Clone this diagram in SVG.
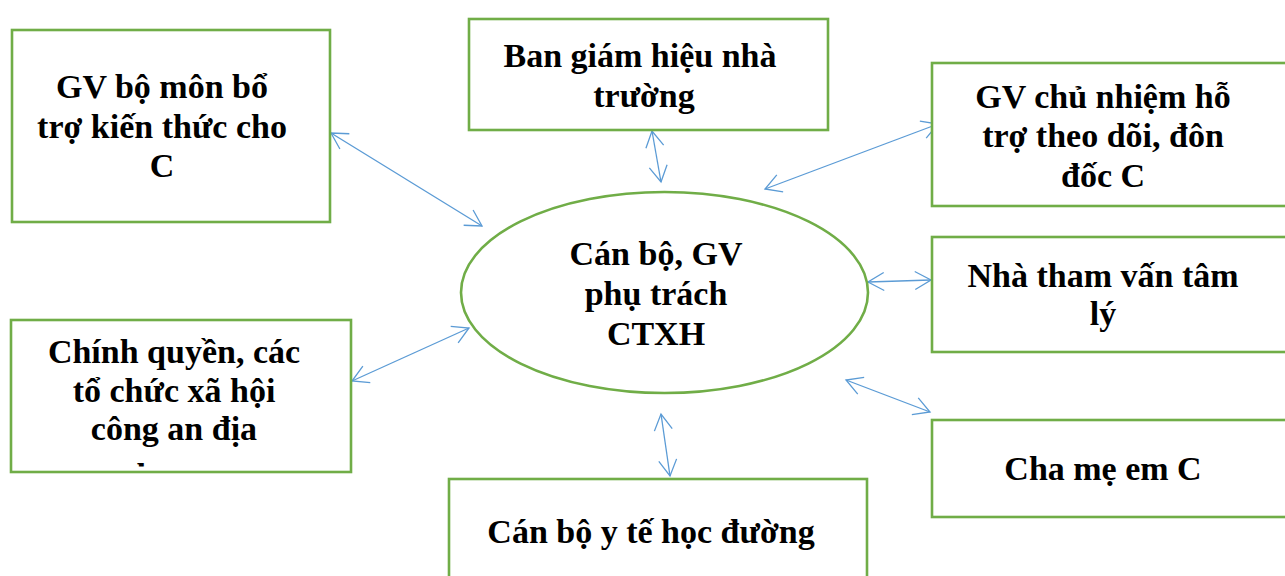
<svg xmlns="http://www.w3.org/2000/svg" width="1285" height="576" viewBox="0 0 1285 576">
  <style>
    .box { fill: #ffffff; stroke: #70AD47; stroke-width: 2.6; }
    .lbl { font-family: "Liberation Serif", "Times New Roman", serif; font-weight: bold; font-size: 34px; fill: #000000; text-anchor: middle; }
    .link { stroke: #5B9BD5; stroke-width: 1.3; fill: none; marker-start: url(#head); marker-end: url(#head); }
  </style>
  <defs>
    <marker id="head" markerUnits="userSpaceOnUse" markerWidth="40" markerHeight="40" viewBox="-20 -20 40 40" refX="0" refY="0" orient="auto-start-reverse" overflow="visible">
      <path d="M -16 -9 L 0 0 L -16 9" fill="none" stroke="#5B9BD5" stroke-width="1.3"/>
    </marker>
    <!-- text area of the authority box; overflowing lines are cut at its lower edge -->
    <clipPath id="clip-authority">
      <rect x="12" y="321" width="338" height="145.5"/>
    </clipPath>
  </defs>
  <rect width="1285" height="576" fill="#ffffff"/>

  <!-- connectors -->
  <g id="connectors">
    <line class="link" x1="331" y1="133" x2="482" y2="226"/>
    <line class="link" x1="652" y1="131" x2="661" y2="182"/>
    <line class="link" x1="938" y1="124" x2="765" y2="189"/>
    <line class="link" x1="868" y1="282" x2="931" y2="280"/>
    <line class="link" x1="846" y1="380" x2="930" y2="412"/>
    <line class="link" x1="661" y1="414" x2="670" y2="476"/>
    <line class="link" x1="469" y1="328" x2="352" y2="381"/>
  </g>

  <!-- central node -->
  <g id="node-center">
    <ellipse cx="664.5" cy="292.5" rx="203.5" ry="100.5" fill="#ffffff" stroke="#70AD47" stroke-width="2.6"/>
    <text class="lbl" x="656" y="265">Cán bộ, GV</text>
    <text class="lbl" x="656" y="305">phụ trách</text>
    <text class="lbl" x="656" y="345">CTXH</text>
  </g>

  <g id="node-subject-teachers">
    <rect class="box" x="12" y="30" width="318" height="192"/>
    <text class="lbl" x="162" y="98">GV bộ môn bổ</text>
    <text class="lbl" x="162" y="138">trợ kiến thức cho</text>
    <text class="lbl" x="162" y="177">C</text>
  </g>

  <g id="node-school-board">
    <rect class="box" x="469" y="19" width="359" height="111"/>
    <text class="lbl" x="640" y="67">Ban giám hiệu nhà</text>
    <text class="lbl" x="644" y="107">trường</text>
  </g>

  <g id="node-homeroom">
    <rect class="box" x="932" y="63" width="360" height="143"/>
    <text class="lbl" x="1103" y="108">GV chủ nhiệm hỗ</text>
    <text class="lbl" x="1103" y="147">trợ theo dõi, đôn</text>
    <text class="lbl" x="1103" y="187">đốc C</text>
  </g>

  <g id="node-counselor">
    <rect class="box" x="932" y="237" width="360" height="115"/>
    <text class="lbl" x="1103" y="287">Nhà tham vấn tâm</text>
    <text class="lbl" x="1103" y="325">lý</text>
  </g>

  <g id="node-parents">
    <rect class="box" x="932" y="420" width="360" height="97"/>
    <text class="lbl" x="1103" y="480">Cha mẹ em C</text>
  </g>

  <g id="node-school-health">
    <rect class="box" x="449" y="479" width="418" height="110"/>
    <text class="lbl" x="651" y="543">Cán bộ y tế học đường</text>
  </g>

  <g id="node-authority">
    <rect class="box" x="11" y="320" width="340" height="152"/>
    <g clip-path="url(#clip-authority)">
      <text class="lbl" x="174" y="363">Chính quyền, các</text>
      <text class="lbl" x="174" y="402">tổ chức xã hội</text>
      <text class="lbl" x="174" y="440">công an địa</text>
      <text class="lbl" x="174" y="487">phương</text>
    </g>
  </g>
</svg>
